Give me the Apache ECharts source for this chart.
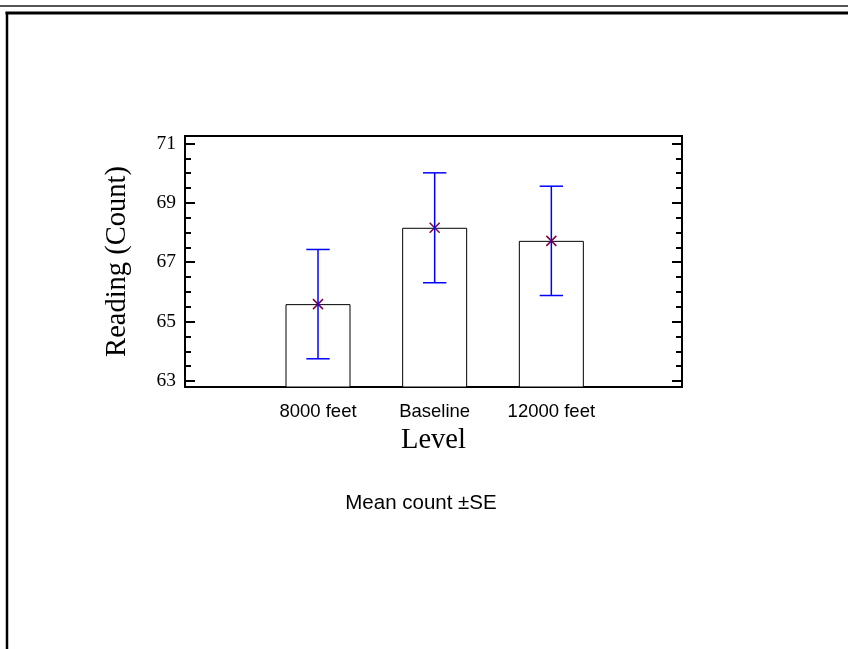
<!DOCTYPE html>
<html>
<head>
<meta charset="utf-8">
<script src="https://cdn.jsdelivr.net/npm/echarts@6/dist/echarts.min.js"></script>
<style>html,body{margin:0;padding:0;background:#fff}#c{width:848px;height:649px}</style>
</head>
<body>
<div id="c"></div>
<script>
var categories = ['8000 feet', 'Baseline', '12000 feet'];
var positions = [1, 2, 3];
var means = [65.59, 68.16, 67.72];
var se = [1.84, 1.85, 1.84];
var majorTicks = [63, 65, 67, 69, 71];
var minorTicks = [63.5, 64, 64.5, 65.5, 66, 66.5, 67.5, 68, 68.5, 69.5, 70, 70.5];

var chart = echarts.init(document.getElementById('c'));
var barData = positions.map(function (p, i) { return [p, means[i]]; });
var errData = positions.map(function (p, i) { return [p, means[i], means[i] - se[i], means[i] + se[i]]; });

function yAx(grid, pos, ticks, len, labels, name) {
  return {
    gridIndex: grid, type: 'value', position: pos, offset: 0, min: 62.8, max: 71.25,
    name: name || '', nameLocation: 'middle', nameGap: 53, nameRotate: 90,
    nameTextStyle: { fontFamily: 'Liberation Serif', fontSize: 28.5, color: '#000' },
    axisLine: { show: true, onZero: false, lineStyle: { color: '#000', width: 2 } },
    axisTick: { show: true, inside: true, length: len, customValues: ticks, lineStyle: { color: '#000', width: 2 } },
    axisLabel: labels ? { show: true, customValues: majorTicks, margin: 9, fontFamily: 'Liberation Serif', fontSize: 19.5, color: '#000' } : { show: false },
    splitLine: { show: false }
  };
}
var gridBox = { left: 185, top: 136, right: 166, bottom: 262, show: false };

chart.setOption({
  animation: false,
  grid: [gridBox, gridBox],
  xAxis: [{
    gridIndex: 0, type: 'value', min: -0.14, max: 4.12, position: 'bottom', offset: 0,
    name: 'Level', nameLocation: 'middle', nameGap: 39,
    nameTextStyle: { fontFamily: 'Liberation Serif', fontSize: 28.5, color: '#000' },
    axisLine: { show: true, onZero: false, lineStyle: { color: '#000', width: 2 } },
    axisTick: { show: false },
    axisLabel: {
      customValues: positions, margin: 15, fontFamily: 'Liberation Sans', fontSize: 18.5, color: '#000',
      formatter: function (v) { var i = positions.indexOf(Math.round(v)); return i >= 0 ? categories[i] : ''; }
    },
    splitLine: { show: false }
  }, {
    gridIndex: 0, type: 'value', min: -0.14, max: 4.12, position: 'top', offset: 0,
    axisLine: { show: true, onZero: false, lineStyle: { color: '#000', width: 2 } },
    axisTick: { show: false }, axisLabel: { show: false }, splitLine: { show: false }
  }, {
    gridIndex: 1, type: 'value', min: -0.14, max: 4.12, show: false, axisLine: { onZero: false }
  }],
  yAxis: [
    yAx(0, 'left', majorTicks, 10, true, 'Reading (Count)'),
    yAx(0, 'right', majorTicks, 10, false),
    yAx(1, 'left', minorTicks, 6, false),
    yAx(1, 'right', minorTicks, 6, false)
  ],
  series: [{
    type: 'bar', xAxisIndex: 0, yAxisIndex: 0, data: barData, barWidth: 65,
    itemStyle: { color: '#fff', borderColor: '#000', borderWidth: 1 },
    clip: true, z: 1
  }, {
    type: 'custom', xAxisIndex: 0, yAxisIndex: 0, data: errData, z: 3, clip: false,
    renderItem: function (params, api) {
      var x = api.value(0);
      var c = api.coord([x, api.value(1)]);
      var lo = api.coord([x, api.value(2)]);
      var hi = api.coord([x, api.value(3)]);
      var capL = api.coord([x - 0.1, api.value(1)])[0];
      var capR = api.coord([x + 0.1, api.value(1)])[0];
      var s = 5;
      var mk = { stroke: '#800040', lineWidth: 1.5 };
      var eb = { stroke: '#0000ff', lineWidth: 1.5 };
      return {
        type: 'group',
        children: [
          { type: 'line', shape: { x1: c[0] - s, y1: c[1] - s, x2: c[0] + s, y2: c[1] + s }, style: mk },
          { type: 'line', shape: { x1: c[0] - s, y1: c[1] + s, x2: c[0] + s, y2: c[1] - s }, style: mk },
          { type: 'line', shape: { x1: c[0], y1: lo[1], x2: c[0], y2: hi[1] }, style: eb },
          { type: 'line', shape: { x1: capL, y1: lo[1], x2: capR, y2: lo[1] }, style: eb },
          { type: 'line', shape: { x1: capL, y1: hi[1], x2: capR, y2: hi[1] }, style: eb }
        ]
      };
    }
  }],
  graphic: [
    { type: 'line', shape: { x1: 0, y1: 6, x2: 848, y2: 6 }, style: { stroke: '#555', lineWidth: 2 } },
    { type: 'line', shape: { x1: 5.5, y1: 13, x2: 848, y2: 13 }, style: { stroke: '#000', lineWidth: 3 } },
    { type: 'line', shape: { x1: 7, y1: 12, x2: 7, y2: 649 }, style: { stroke: '#000', lineWidth: 2.5 } },
    { type: 'text', x: 421, y: 503, style: { text: 'Mean count \u00b1SE', fontFamily: 'Liberation Sans', fontSize: 20.5, fill: '#000', textAlign: 'center', textVerticalAlign: 'middle' } }
  ]
});
</script>
</body>
</html>
